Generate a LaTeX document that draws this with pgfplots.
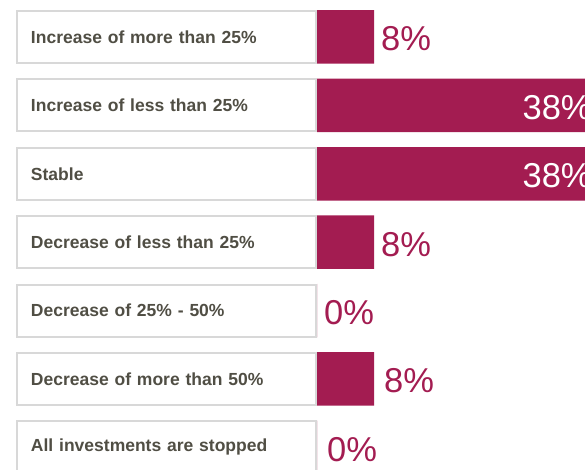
\documentclass[border=0pt]{standalone}
\usepackage{pgfplots}
\pgfplotsset{compat=1.18}
\usepackage{fontspec}
\setmainfont{Liberation Sans}
\definecolor{barc}{RGB}{163,28,81}
\definecolor{labc}{RGB}{80,78,68}
\definecolor{boxc}{RGB}{216,216,216}
\begin{document}
\begin{tikzpicture}
\useasboundingbox (0,0) rectangle (585pt,470pt);
\clip (0,0) rectangle (585pt,470pt);
\begin{axis}[
  at={(317pt,467.2pt)}, anchor=north west,
  scale only axis, width=268pt, height=478.8pt,
  xbar, bar width=53.5pt,
  xmin=0, xmax=37.6,
  ymin=-0.5, ymax=6.5, y dir=reverse,
  clip=false,
  axis x line=none,
  axis y line*=left,
  y axis line style={draw=none},
  major tick length=0pt,
  ytick={0,1,2,3,4,5,6},
  yticklabels={Increase of more than 25\%, Increase of less than 25\%, Stable, Decrease of less than 25\%, Decrease of 25\% - 50\%, Decrease of more than 50\%, All investments are stopped},
  yticklabel style={draw=boxc, line width=2pt, fill=white, text width=271pt, align=left, inner xsep=14pt, minimum height=52pt, anchor=east, text=labc, font=\fontsize{17.5pt}{20pt}\selectfont\bfseries},
  point meta=x,
]
\addplot[xbar, bar shift=0pt, fill=barc, draw=none,
  nodes near coords={\pgfmathprintnumber[fixed,precision=0,assume math mode=true]{\pgfplotspointmeta}\%},
  nodes near coords style={anchor=west, inner sep=0pt, xshift=7pt, yshift=-2pt, text=barc, font=\fontsize{34.5pt}{36pt}\selectfont}]
  coordinates {(8,0) (8,3) (0,4)};
\addplot[xbar, bar shift=0pt, fill=barc, draw=none,
  nodes near coords={\pgfmathprintnumber[fixed,precision=0,assume math mode=true]{\pgfplotspointmeta}\%},
  nodes near coords style={anchor=west, inner sep=0pt, xshift=10pt, yshift=-2pt, text=barc, font=\fontsize{34.5pt}{36pt}\selectfont}]
  coordinates {(8,5) (0,6)};
\addplot[xbar, bar shift=0pt, fill=barc, draw=none,
  nodes near coords={\pgfmathprintnumber[fixed,precision=0,assume math mode=true]{\pgfplotspointmeta}\%},
  nodes near coords style={anchor=east, inner sep=0pt, xshift=4pt, yshift=-2pt, text=white, font=\fontsize{34.5pt}{36pt}\selectfont}]
  coordinates {(38,1) (38,2)};
\end{axis}
\end{tikzpicture}
\end{document}
